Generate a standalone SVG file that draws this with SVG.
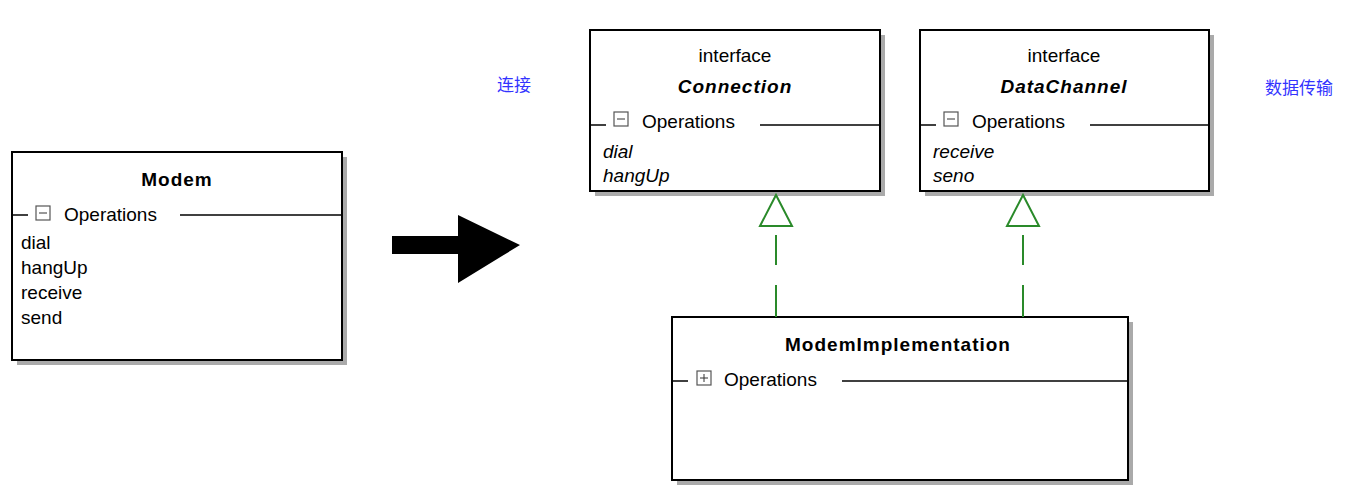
<svg xmlns="http://www.w3.org/2000/svg" width="1366" height="494" viewBox="0 0 1366 494">
<style>
.box{fill:#fff;stroke:#000;stroke-width:2}
.sh{fill:#aaa}
.t{font-family:"Liberation Sans",sans-serif;font-size:19px;fill:#000}
.b{font-weight:bold;letter-spacing:1px}
.i{font-style:italic}
.sep{stroke:#000;stroke-width:1.5}
.pm{fill:#fff;stroke:#555;stroke-width:1.2}
.cn{font-family:"Liberation Sans","Noto Sans CJK SC",sans-serif;font-size:17px;fill:#3333ff}
.dash{stroke:#2a8a2a;stroke-width:2}
</style>
<rect x="0" y="0" width="1366" height="494" fill="#fff"/>
<g id="modem">
<rect class="sh" x="17" y="157" width="330" height="208"/>
<rect class="box" x="12" y="152" width="330" height="208"/>
<text class="t b" x="177" y="186" text-anchor="middle">Modem</text>
<line class="sep" x1="12" y1="215" x2="28" y2="215"/><line class="sep" x1="180" y1="215" x2="342" y2="215"/>
<rect class="pm" x="36" y="206" width="14" height="14"/><line x1="39" y1="213" x2="47" y2="213" stroke="#333"/>
<text class="t" x="64" y="221">Operations</text>
<text class="t" x="21" y="249">dial</text>
<text class="t" x="21" y="274">hangUp</text>
<text class="t" x="21" y="299">receive</text>
<text class="t" x="21" y="324">send</text>
</g>
<g id="arrow"><polygon points="392,236 458,236 458,215 520,245 458,283 458,254 392,254" fill="#000"/></g>
<g id="connection">
<rect class="sh" x="595" y="35" width="290" height="161"/>
<rect class="box" x="590" y="30" width="290" height="161"/>
<text class="t" x="735" y="62" text-anchor="middle">interface</text>
<text class="t b i" x="735" y="93" text-anchor="middle">Connection</text>
<line class="sep" x1="590" y1="125" x2="606" y2="125"/><line class="sep" x1="760" y1="125" x2="880" y2="125"/>
<rect class="pm" x="614" y="112" width="14" height="14"/><line x1="617" y1="119" x2="625" y2="119" stroke="#333"/>
<text class="t" x="642" y="128">Operations</text>
<text class="t i" x="603" y="158">dial</text>
<text class="t i" x="603" y="182">hangUp</text>
</g>
<g id="datachannel">
<rect class="sh" x="925" y="35" width="289" height="161"/>
<rect class="box" x="920" y="30" width="289" height="161"/>
<text class="t" x="1064" y="62" text-anchor="middle">interface</text>
<text class="t b i" x="1064" y="93" text-anchor="middle">DataChannel</text>
<line class="sep" x1="920" y1="125" x2="936" y2="125"/><line class="sep" x1="1090" y1="125" x2="1209" y2="125"/>
<rect class="pm" x="944" y="112" width="14" height="14"/><line x1="947" y1="119" x2="955" y2="119" stroke="#333"/>
<text class="t" x="972" y="128">Operations</text>
<text class="t i" x="933" y="158">receive</text>
<text class="t i" x="933" y="182">seno</text>
</g>
<g id="impl">
<rect class="sh" x="677" y="322" width="456" height="163"/>
<rect class="box" x="672" y="317" width="456" height="163"/>
<text class="t b" x="898" y="351" text-anchor="middle">ModemImplementation</text>
<line class="sep" x1="672" y1="381" x2="688" y2="381"/><line class="sep" x1="842" y1="381" x2="1128" y2="381"/>
<rect class="pm" x="697" y="371" width="14" height="14"/><line x1="700" y1="378" x2="708" y2="378" stroke="#333"/><line x1="704" y1="374" x2="704" y2="382" stroke="#333"/>
<text class="t" x="724" y="386">Operations</text>
</g>
<g id="connectors">
<polygon points="776,195 760,226 792,226" fill="#fff" stroke="#2a8a2a" stroke-width="2"/>
<line class="dash" x1="776" y1="235" x2="776" y2="265"/><line class="dash" x1="776" y1="285" x2="776" y2="317"/>
<polygon points="1023,195 1007,226 1039,226" fill="#fff" stroke="#2a8a2a" stroke-width="2"/>
<line class="dash" x1="1023" y1="235" x2="1023" y2="265"/><line class="dash" x1="1023" y1="285" x2="1023" y2="317"/>
</g>
<text class="cn" x="497" y="91">连接</text>
<text class="cn" x="1265" y="94">数据传输</text>
</svg>
